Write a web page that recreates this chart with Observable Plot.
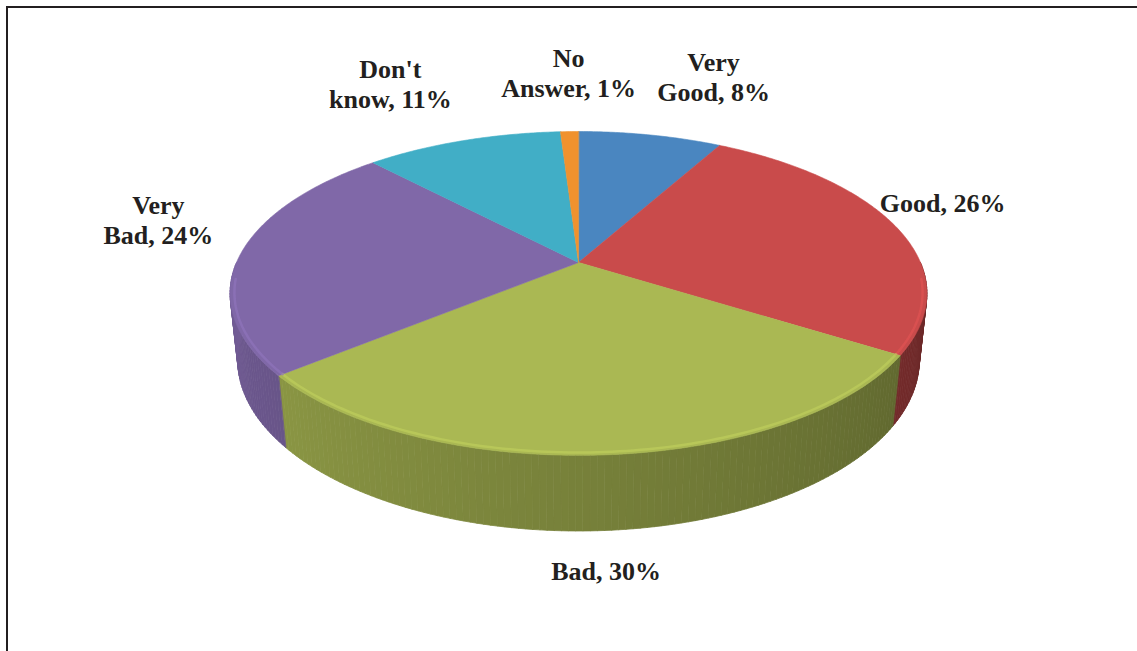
<!DOCTYPE html>
<html><head><meta charset="utf-8">
<script src="https://cdn.jsdelivr.net/npm/d3@7"></script>
<script src="https://cdn.jsdelivr.net/npm/@observablehq/plot@0.6"></script>
<style>
body{margin:0;background:#fff;}
#wrap{position:relative;width:1137px;height:651px;overflow:hidden;background:#fff;}
#frame{position:absolute;left:6px;top:6px;width:3000px;height:3000px;border:2px solid #231f20;box-sizing:border-box;pointer-events:none;}
</style></head><body>
<div id="wrap"><div id="chart"></div><div id="frame"></div></div>
<script>
// ---- data ----
const categories = ["Very Good", "Good", "Bad", "Very Bad", "Don't know", "No Answer"];
const shares = [8, 26, 30, 24, 11, 1];
const sliceColors = ["#4A86C0", "#C94B4B", "#AAB853", "#8068A8", "#41AEC6", "#F0922E"];

// ---- 3D perspective pie geometry (normalized units) ----
const Dn = 4.66, sinP = 0.456, cosP = 0.89, Hr = 0.22;
const deg = Math.PI / 180;
function proj(t, s, h) {
  const X = s * Math.sin(t), V = s * Math.cos(t), z = -h * Hr;
  const Yc = V * sinP + z * cosP, Zc = Dn + V * cosP - z * sinP;
  return [X * Dn / Zc, Yc * Dn / Zc / sinP];
}
const X0 = 578, XR = 342, Y0 = 262, YR = 156; // scale ranges
const pie = d3.pie().sort(null).value(d => d)(shares);

// top faces
const topRows = [];
pie.forEach((p, i) => {
  const id = "top" + i, c = sliceColors[i];
  const c0 = proj(0, 0, 0);
  topRows.push({id, x: c0[0], y: c0[1], c});
  const n = Math.max(2, Math.ceil((p.endAngle - p.startAngle) / deg * 2));
  for (let j = 0; j <= n; j++) {
    const t = p.startAngle + (p.endAngle - p.startAngle) * j / n;
    const q = proj(t, 1, 0);
    topRows.push({id, x: q[0], y: q[1], c});
  }
});

// side strips (visible front half)
const sideRows = [];
pie.forEach((p, i) => {
  const a0 = Math.max(p.startAngle, 90 * deg), a1 = Math.min(p.endAngle, 270 * deg);
  if (a1 <= a0) return;
  const n = Math.max(1, Math.ceil((a1 - a0) / deg));
  const base = d3.rgb(sliceColors[i]);
  for (let j = 0; j < n; j++) {
    const t0 = a0 + (a1 - a0) * j / n, t1 = a0 + (a1 - a0) * (j + 1) / n, tm = (t0 + t1) / 2;
    const f = 0.5 + 0.4 * (tm / deg - 90) / 180;
    const c = d3.rgb(base.r * f, base.g * f, base.b * f).formatHex();
    const id = `s${i}_${j}`;
    [[t0, 0], [t1, 0], [t1, 1], [t0, 1]].forEach(([t, h]) => {
      const q = proj(t, 1, h);
      sideRows.push({id, x: q[0], y: q[1], c});
    });
  }
});

// bevel highlight along front rim of top face
const bevelRows = [];
pie.forEach((p, i) => {
  const a0 = Math.max(p.startAngle, 96 * deg), a1 = Math.min(p.endAngle, 264 * deg);
  if (a1 <= a0) return;
  const c = d3.rgb(sliceColors[i]).brighter(0.3).formatHex();
  const n = Math.max(2, Math.ceil((a1 - a0) / deg));
  for (let j = 0; j <= n; j++) {
    const t = a0 + (a1 - a0) * j / n;
    const q = proj(t, 0.988, 0);
    bevelRows.push({id: "b" + i, x: q[0], y: q[1], c});
  }
});

// labels placed outside the rim at each slice's mid-angle
const fontSize = 26;
const ctx = document.createElement("canvas").getContext("2d");
ctx.font = `bold ${fontSize}px "Liberation Serif"`;
const plotRightPx = 1005, gap = 28, lift = 7;
const labelMarks = pie.map((p, i) => {
  const text = `${categories[i].replace(" ", "\n")}, ${shares[i]}%`;
  const w = Math.max(...text.split("\n").map(l => ctx.measureText(l).width));
  const t = (p.startAngle + p.endAngle) / 2;
  const st = Math.sin(t), ct = Math.cos(t);
  const front = ct < -0.2;
  const r = proj(t, 1, front ? 1 : 0);
  let ax = X0 + r[0] * XR + gap * st;
  let ay = Y0 - r[1] * YR - gap * ct - (front ? 0 : lift);
  let left = st > 0.2 ? ax : st < -0.2 ? ax - w : ax - w / 2;
  left = Math.min(left, plotRightPx - w);
  const cx = left + w / 2;
  return Plot.text([{x: (cx - X0) / XR, y: (Y0 - ay) / YR, text}], {
    x: "x", y: "y", text: "text",
    textAnchor: "middle", lineAnchor: front ? "top" : "bottom",
    fontFamily: '"Liberation Serif", "Times New Roman", serif',
    fontWeight: "bold", fontSize, lineHeight: 1.15, fill: "#231f20"
  });
});

const chart = Plot.plot({
  width: 1137, height: 651,
  marginTop: 0, marginRight: 0, marginBottom: 0, marginLeft: 0,
  x: {domain: [-1, 1], range: [X0 - XR, X0 + XR], axis: null},
  y: {domain: [1, -1], range: [Y0 - YR, Y0 + YR], axis: null},
  color: {type: "identity"},
  style: {background: "transparent"},
  marks: [
    Plot.line(sideRows, {x: "x", y: "y", z: "id", fill: "c", stroke: "c", strokeWidth: 0.8, curve: "linear-closed"}),
    Plot.line(topRows, {x: "x", y: "y", z: "id", fill: "c", stroke: "c", strokeWidth: 0.6, curve: "linear-closed"}),
    Plot.line(bevelRows, {x: "x", y: "y", z: "id", stroke: "c", strokeWidth: 2.5, strokeOpacity: 0.7}),
    ...labelMarks
  ]
});
document.getElementById("chart").appendChild(chart);
</script>
</body></html>
